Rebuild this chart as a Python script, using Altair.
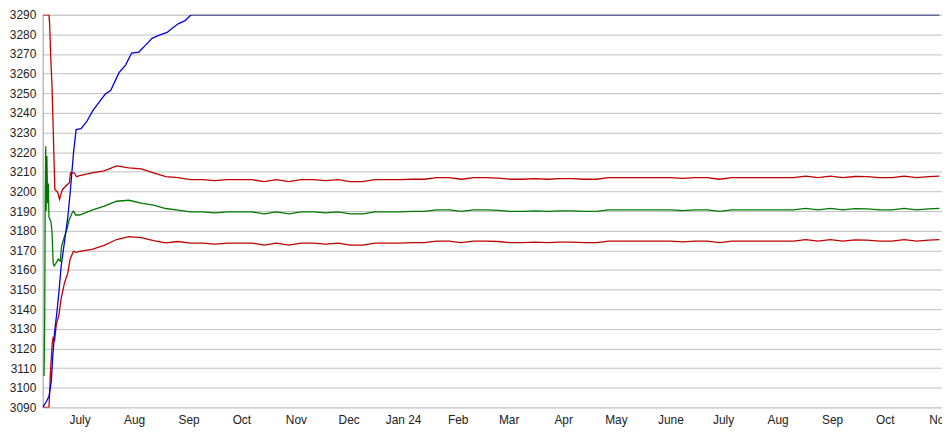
import altair as alt
import pandas as pd

# ---- early (fast-moving) part of each series ----
upper_early_dates = ["2023-06-25T00:00", "2023-06-28T13:00", "2023-06-28T23:00", "2023-06-29T12:00",
                     "2023-06-30T06:00", "2023-06-30T19:00", "2023-07-01T09:00", "2023-07-01T22:00",
                     "2023-07-03T12:00", "2023-07-04T14:00", "2023-07-05T12:00", "2023-07-06T07:00",
                     "2023-07-08T10:00", "2023-07-10T05:00", "2023-07-10T19:00", "2023-07-13T00:00",
                     "2023-07-14T05:00"]
upper_early_vals = [3290, 3290, 3285, 3269.5, 3254.5, 3238, 3218, 3201, 3199.5, 3196, 3199, 3201,
                    3203, 3204.5, 3209.5, 3209.5, 3207.5]

mid_early_dates = ["2023-06-25T18:00", "2023-06-26T03:00", "2023-06-26T10:00", "2023-06-26T17:00",
                   "2023-06-26T23:00", "2023-06-27T09:00", "2023-06-27T20:00", "2023-06-28T05:00",
                   "2023-06-28T13:00", "2023-06-29T02:00", "2023-06-29T17:00", "2023-06-30T06:00",
                   "2023-07-01T00:00", "2023-07-01T14:00", "2023-07-02T22:00", "2023-07-03T20:00",
                   "2023-07-05T00:00", "2023-07-05T17:00", "2023-07-07T05:00", "2023-07-08T17:00",
                   "2023-07-10T01:00", "2023-07-11T22:00", "2023-07-12T12:00", "2023-07-13T19:00"]
mid_early_vals = [3106, 3135, 3195, 3223, 3190, 3218, 3194, 3204, 3187, 3186, 3184.5, 3180,
                  3163, 3162, 3164, 3165.5, 3164.5, 3172, 3176.5, 3180.5, 3185.5, 3189.5, 3190, 3188]

lower_early_dates = ["2023-06-25T00:00", "2023-06-28T13:00", "2023-06-28T23:00", "2023-06-29T08:00",
                     "2023-06-29T22:00", "2023-06-30T12:00", "2023-06-30T22:00", "2023-07-01T19:00",
                     "2023-07-02T17:00", "2023-07-04T05:00", "2023-07-05T12:00", "2023-07-07T10:00",
                     "2023-07-09T07:00", "2023-07-10T14:00", "2023-07-12T12:00", "2023-07-14T00:00"]
lower_early_vals = [3090, 3090, 3097, 3107, 3115.5, 3123.5, 3125.5, 3124, 3132, 3137, 3145.5, 3153.5,
                    3158.5, 3165.5, 3169.5, 3169]

# ---- weekly part (shared dates for the three bands) ----
weekly_dates = [d.strftime("%Y-%m-%dT%H:%M") for d in pd.date_range("2023-07-16", periods=70, freq="7D")]
weekly_dates.append("2024-11-16T00:00")

upper_weekly = [3208, 3209.5, 3210.5, 3213, 3212, 3211.5, 3209.5, 3207.5, 3207,
                3206, 3206, 3205.5, 3206, 3206, 3206, 3205, 3206, 3205, 3206,
                3206, 3205.5, 3206, 3205, 3205, 3206, 3206, 3206, 3206.2, 3206.2,
                3207, 3207, 3206.2, 3207, 3207, 3206.8, 3206.2, 3206.2, 3206.5, 3206.2,
                3206.5, 3206.5, 3206.2, 3206.2, 3207, 3207, 3207, 3207, 3207, 3207,
                3206.6, 3207, 3207, 3206.2, 3207, 3207, 3207, 3207, 3207, 3207,
                3207.8, 3207, 3207.8, 3207, 3207.6, 3207.5, 3207, 3207, 3207.8, 3207, 3207.5, 3207.8]
mid_weekly = [3188, 3190.5, 3192.5, 3195, 3195.5, 3194, 3193, 3191.3, 3190.5,
              3189.6, 3189.6, 3189.1, 3189.6, 3189.6, 3189.6, 3188.6, 3189.6, 3188.6, 3189.6,
              3189.6, 3189.1, 3189.6, 3188.6, 3188.6, 3189.6, 3189.6, 3189.6, 3189.8, 3189.8,
              3190.6, 3190.6, 3189.8, 3190.6, 3190.6, 3190.4, 3189.8, 3189.8, 3190.1, 3189.8,
              3190.1, 3190.1, 3189.8, 3189.8, 3190.6, 3190.6, 3190.6, 3190.6, 3190.6, 3190.6,
              3190.2, 3190.6, 3190.6, 3189.8, 3190.6, 3190.6, 3190.6, 3190.6, 3190.6, 3190.6,
              3191.4, 3190.6, 3191.4, 3190.6, 3191.2, 3191.1, 3190.6, 3190.6, 3191.4, 3190.6, 3191.1, 3191.4]
lower_weekly = [3169.5, 3170.5, 3172.5, 3175.5, 3177, 3176.5, 3175, 3173.8, 3174.5,
                3173.7, 3173.7, 3173.2, 3173.7, 3173.7, 3173.7, 3172.7, 3173.7, 3172.7, 3173.7,
                3173.7, 3173.2, 3173.7, 3172.7, 3172.7, 3173.7, 3173.7, 3173.7, 3173.9, 3173.9,
                3174.7, 3174.7, 3173.9, 3174.7, 3174.7, 3174.5, 3173.9, 3173.9, 3174.2, 3173.9,
                3174.2, 3174.2, 3173.9, 3173.9, 3174.7, 3174.7, 3174.7, 3174.7, 3174.7, 3174.7,
                3174.3, 3174.7, 3174.7, 3173.9, 3174.7, 3174.7, 3174.7, 3174.7, 3174.7, 3174.7,
                3175.5, 3174.7, 3175.5, 3174.7, 3175.3, 3175.2, 3174.7, 3174.7, 3175.5, 3174.7, 3175.2, 3175.5]

# ---- rising (blue) series and its capped plateau ----
rise_dates = ["2023-06-25T00:00", "2023-06-27T02:00", "2023-06-28T13:00", "2023-06-29T22:00",
              "2023-06-30T19:00", "2023-07-01T19:00", "2023-07-03T02:00", "2023-07-04T05:00",
              "2023-07-05T12:00", "2023-07-07T10:00", "2023-07-09T07:00", "2023-07-10T19:00",
              "2023-07-12T12:00", "2023-07-14T00:00", "2023-07-16T19:00", "2023-07-20T00:00",
              "2023-07-23T10:00", "2023-07-27T03:00", "2023-07-30T12:00", "2023-08-02T17:00",
              "2023-08-07T10:00", "2023-08-11T05:00", "2023-08-14T14:00", "2023-08-18T17:00",
              "2023-08-22T12:00", "2023-08-26T05:00", "2023-08-30T00:00", "2023-09-03T17:00",
              "2023-09-06T12:00", "2023-09-10T07:00", "2023-09-14T00:00", "2023-09-17T10:00"]
rise_vals = [3090, 3093, 3095.5, 3103.5, 3117, 3128.5, 3138.5, 3148.5, 3162, 3174.5, 3187, 3201,
             3219.5, 3231.5, 3232, 3235.5, 3241, 3245.5, 3249.5, 3251.5, 3260.5, 3264.5, 3270.5,
             3271, 3274.5, 3278, 3279.5, 3281, 3283, 3285.5, 3287, 3290]
cap_dates = ["2023-09-17T10:00", "2024-11-16T00:00"]
cap_vals = [3290, 3290]

# ---- axis labels ----
tick_labels = ["July", "Aug", "Sep", "Oct", "Nov", "Dec", "Jan 24", "Feb", "Mar", "Apr", "May",
               "June", "July", "Aug", "Sep", "Oct", "Nov"]
tick_months = [(2023, m) for m in range(7, 13)] + [(2024, m) for m in range(1, 12)]
y_ticks = list(range(3090, 3291, 10))

series_names = ["Upper", "Lower", "Middle", "Rise", "Cap"]
series_colors = ["#C00000", "#C00000", "#007800", "#0000DD", "#000070"]
series_widths = [1.3, 1.3, 1.3, 1.3, 1.8]

rows = []
def add(name, dates, vals):
    for d, v in zip(dates, vals):
        rows.append({"date": d, "value": v, "series": name})

add("Upper", upper_early_dates + weekly_dates, upper_early_vals + upper_weekly)
add("Lower", lower_early_dates + weekly_dates, lower_early_vals + lower_weekly)
add("Middle", mid_early_dates + weekly_dates, mid_early_vals + mid_weekly)
add("Rise", rise_dates, rise_vals)
add("Cap", cap_dates, cap_vals)
df = pd.DataFrame(rows)

label_expr = "[" + ",".join("'%s'" % t for t in tick_labels) + "][(year(datum.value)-2023)*12+month(datum.value)-6]"

chart = alt.Chart(df).mark_line(clip=True, interpolate="linear").encode(
    x=alt.X("date:T",
            scale=alt.Scale(domain=[alt.DateTime(year=2023, month=6, date=25),
                                    alt.DateTime(year=2024, month=11, date=17, hours=12)]),
            axis=alt.Axis(values=[alt.DateTime(year=y, month=m, date=16) for y, m in tick_months],
                          labelExpr=label_expr, grid=False, domain=False, ticks=False, tickSize=0,
                          labelPadding=7, labelOverlap=False, labelBound=False, title=None,
                          labelFont="Liberation Sans", labelFontSize=12, labelColor="#222222")),
    y=alt.Y("value:Q",
            scale=alt.Scale(domain=[3090, 3290], nice=False, zero=False),
            axis=alt.Axis(values=y_ticks, grid=True, gridColor="#C0C0C0", gridWidth=1,
                          domain=True, domainColor="#A8A8A8", ticks=False, tickSize=0,
                          labelPadding=7, labelFont="Liberation Sans", labelFontSize=12,
                          labelColor="#222222", title=None, format="d")),
    color=alt.Color("series:N", scale=alt.Scale(domain=series_names, range=series_colors), legend=None),
    strokeWidth=alt.StrokeWidth("series:N", scale=alt.Scale(domain=series_names, range=series_widths),
                                legend=None),
    detail="series:N",
).properties(
    width=907, height=396,
    autosize=alt.AutoSizeParams(type="none"),
    padding={"left": 35, "top": 5, "right": 0, "bottom": 20},
).configure_view(stroke=None).configure(background="white")

chart.save("out.html", embed_options={"renderer": "svg", "actions": False})
